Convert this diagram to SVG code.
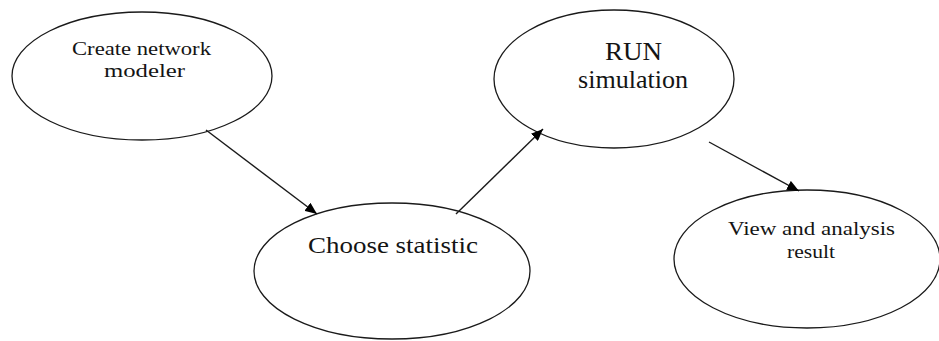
<svg xmlns="http://www.w3.org/2000/svg" width="939" height="341" viewBox="0 0 939 341">
  <style>
    .node ellipse { fill: #ffffff; stroke: #1a1a1a; stroke-width: 1.3; }
    .label { font-family: "Liberation Serif", "Times New Roman", serif; fill: #141414; text-anchor: middle; }
    .edge { stroke: #1a1a1a; stroke-width: 1.4; fill: none; marker-end: url(#arrow); }
  </style>
  <defs>
    <marker id="arrow" viewBox="0 0 12 10" refX="12" refY="5" markerWidth="12" markerHeight="10" markerUnits="userSpaceOnUse" orient="auto">
      <path d="M0,0 L12,5 L0,10 Z" fill="#000000"/>
    </marker>
  </defs>
  <rect width="939" height="341" fill="#ffffff"/>

  <g id="create-network-modeler" class="node">
    <ellipse cx="142" cy="76" rx="130" ry="64"/>
    <text class="label" x="141.5" y="55" font-size="19" textLength="139" lengthAdjust="spacingAndGlyphs">Create network</text>
    <text class="label" x="144.5" y="77" font-size="19" textLength="81" lengthAdjust="spacingAndGlyphs">modeler</text>
  </g>

  <g id="run-simulation" class="node">
    <ellipse cx="614" cy="79" rx="120" ry="69"/>
    <text class="label" x="633.5" y="60" font-size="25" textLength="57" lengthAdjust="spacingAndGlyphs">RUN</text>
    <text class="label" x="633" y="88" font-size="25" textLength="110" lengthAdjust="spacingAndGlyphs">simulation</text>
  </g>

  <g id="choose-statistic" class="node">
    <ellipse cx="392" cy="271" rx="138" ry="68"/>
    <text class="label" x="393" y="253" font-size="24" textLength="170" lengthAdjust="spacingAndGlyphs">Choose statistic</text>
  </g>

  <g id="view-and-analysis-result" class="node">
    <ellipse cx="807" cy="259" rx="133" ry="69"/>
    <text class="label" x="811.5" y="235" font-size="18" textLength="167" lengthAdjust="spacingAndGlyphs">View and analysis</text>
    <text class="label" x="811" y="258" font-size="18" textLength="48" lengthAdjust="spacingAndGlyphs">result</text>
  </g>

  <g id="connectors">
    <line class="edge" x1="206" y1="130" x2="317" y2="214"/>
    <line class="edge" x1="456" y1="214" x2="543" y2="129"/>
    <line class="edge" x1="709" y1="142" x2="799" y2="191"/>
  </g>
</svg>
